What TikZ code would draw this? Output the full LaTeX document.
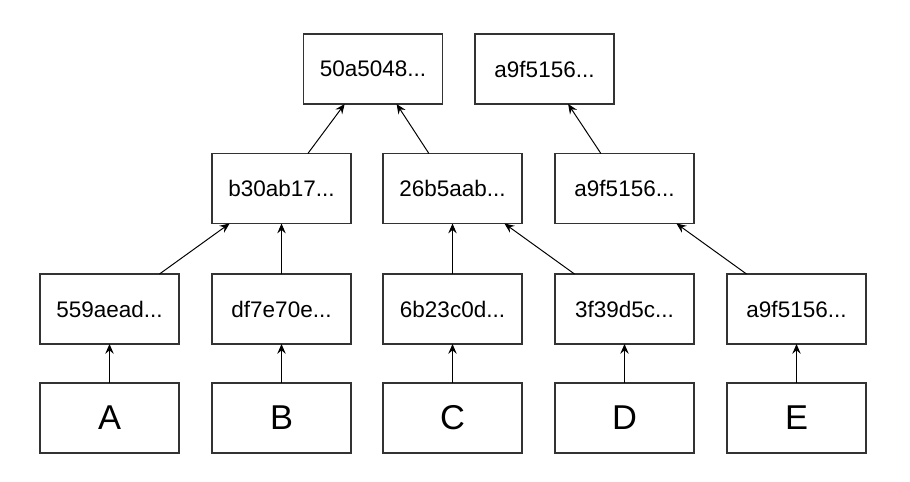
\documentclass[tikz,border=0pt]{standalone}
\usepackage{fontspec}
\setmainfont{Liberation Sans}
\usepackage{xcolor}
\usepackage{tikz}
\usetikzlibrary{arrows.meta}

\begin{document}
\begin{tikzpicture}[
    hashbox/.style={draw=black!80,line width=0.8pt,minimum width=3.475cm,
      minimum height=1.75cm,inner sep=0pt,outer sep=0pt,font=\fontsize{16}{19}\selectfont},
    databox/.style={hashbox,font=\fontsize{24.5}{29}\selectfont},
    link/.style={draw=black,line width=0.7pt,-{Stealth[length=7pt,width=6pt,inset=2.5pt]}}]
      \useasboundingbox (0,0) rectangle (22.75,12.025);

      % data blocks
      \node[databox] (A) at (2.7375,1.575) {A};
      \node[databox] (B) at (7.0375,1.575) {B};
      \node[databox] (C) at (11.3125,1.575) {C};
      \node[databox] (D) at (15.6125,1.575) {D};
      \node[databox] (E) at (19.9125,1.575) {E};

      % leaf hashes
      \node[hashbox] (hA) at (2.7375,4.3) {559aead...};
      \node[hashbox] (hB) at (7.0375,4.3) {df7e70e...};
      \node[hashbox] (hC) at (11.3125,4.3) {6b23c0d...};
      \node[hashbox] (hD) at (15.6125,4.3) {3f39d5c...};
      \node[hashbox] (hE) at (19.9125,4.3) {a9f5156...};

      % second level
      \node[hashbox] (hAB) at (7.0375,7.3125) {b30ab17...};
      \node[hashbox] (hCD) at (11.3125,7.3125) {26b5aab...};
      \node[hashbox] (hEE) at (15.6125,7.3125) {a9f5156...};

      % top level
      \node[hashbox] (hABCD) at (9.325,10.3) {50a5048...};
      \node[hashbox] (hEEE) at (13.6125,10.3) {a9f5156...};

      \draw[link] (A) -- (hA);
      \draw[link] (B) -- (hB);
      \draw[link] (C) -- (hC);
      \draw[link] (D) -- (hD);
      \draw[link] (E) -- (hE);

      \draw[link] (hA.35) -- (hAB.214);
      \draw[link] (hB) -- (hAB);
      \draw[link] (hC) -- (hCD);
      \draw[link] (hD.145) -- (hCD.326);
      \draw[link] (hE.145) -- (hEE.326);

      \draw[link] (hAB.53) -- (hABCD.231);
      \draw[link] (hCD.124) -- (hABCD.304);
      \draw[link] (hEE.124) -- (hEEE.304);
    \end{tikzpicture}
\end{document}
